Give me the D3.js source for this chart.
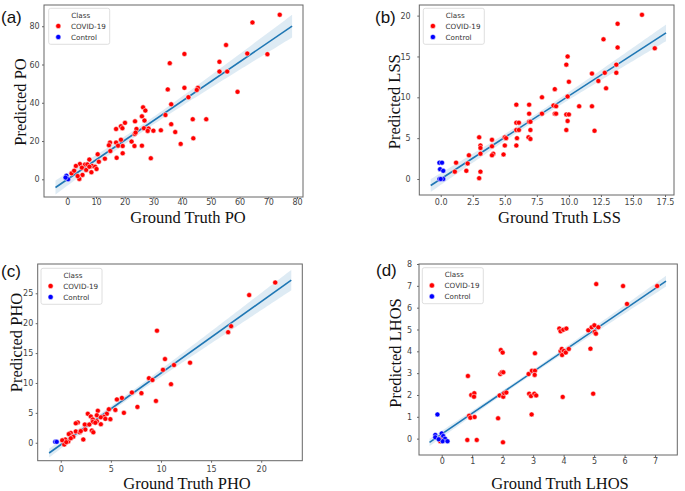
<!DOCTYPE html>
<html>
<head>
<meta charset="utf-8">
<script src="https://cdn.jsdelivr.net/npm/d3@7"></script>
<style>
  html, body { margin: 0; padding: 0; background: #fff; }
  svg { display: block; }
</style>
</head>
<body>
<svg width="685" height="491"></svg>
<script>
// ---- data: [ground truth, predicted] ----
const poCovid = [
  [74, 86], [64.5, 82], [55.3, 70.2], [40.8, 65.5], [62.7, 65.7], [69.7, 65.4], [53, 61.4],
  [35.7, 60.7], [53, 56.3], [55.7, 56.3], [35, 47], [40.8, 47.8], [45.5, 47.8], [45.1, 46.7],
  [59.3, 45.7], [42.2, 42.9], [36.2, 39.2], [34.2, 33.6], [26.4, 37.6], [27.2, 35.9],
  [26, 32.9], [26.9, 30.7], [23.6, 30.3], [20.1, 29.5], [18.7, 27.7], [17, 26.3], [19.2, 26.7],
  [24.1, 26.3], [26.7, 26.7], [28.3, 26.5], [30, 25.4], [32.6, 25.6], [28, 25.3], [36.2, 28.8],
  [37.6, 24.7], [43.7, 31.4], [48.4, 31.4], [43.9, 21.4], [39.5, 18.5], [23.5, 23.7],
  [23.8, 24.4], [22.4, 19.7], [18.7, 20.7], [17, 19.2], [17.7, 17.6], [14.9, 19.2], [14.5, 17.8],
  [19.3, 17.4], [23.4, 17.4], [26, 17.6], [19.3, 13.6], [15, 14.8], [17.2, 11.2], [29.1, 11],
  [10.6, 13.1], [13.1, 10.8], [11, 9.2], [7.7, 10.3], [8.7, 7], [9.7, 6.6], [10.2, 5.4],
  [4.4, 8], [3, 7], [6.2, 7.7], [5.1, 6.1], [6.6, 4.9], [5.3, 2.3], [8.4, 3.7], [1.5, 3.1],
  [4.2, 0.2], [3.6, 1.7], [2.4, 4.5], [7, 7.8], [7.7, 6.6]
];
const poControl = [[-0.3, 1.9], [0.3, 0], [-0.6, 0.9]];

const lssCovid = [
  [15.7, 20.1], [13.8, 19], [12.7, 17.1], [13.8, 16.1], [16.7, 16], [9.9, 15], [9.8, 14],
  [13.7, 14], [11.8, 12.9], [12.8, 13], [13.7, 13], [10, 11.9], [12.3, 12], [12.9, 11.1],
  [8.9, 11], [7.9, 10], [9.9, 10.1], [5.9, 9.1], [6.9, 9.1], [8.8, 9], [9, 8.9], [10.8, 8.9],
  [11.8, 8.9], [6.9, 8], [7.9, 8], [8.9, 8], [9, 8], [9.8, 7.9], [10, 7.9], [5.9, 6.9],
  [6.1, 6.9], [6.9, 7], [7, 7], [9.9, 7.1], [5.9, 6], [6.1, 6], [7, 6], [9.8, 6], [12, 5.9],
  [3, 5.1], [5, 5.1], [5.1, 5], [5.95, 5], [6.85, 5.1], [7, 4.9], [4, 4.8], [3.1, 4.1],
  [4, 4], [5, 4.1], [5.9, 4.1], [3.1, 3.8], [3.1, 3.1], [4.1, 3.1], [4, 2.9], [4.9, 3],
  [2.2, 2.9], [1.2, 2], [2.1, 1.9], [1.1, 0.9], [2, 1], [3.1, 0.9], [3, 0.1]
];
const lssControl = [[-0.1, 2], [0.1, 2], [-0.05, 1.2], [0.2, 1], [-0.1, 0], [0.2, 0], [0, 0]];

const phoCovid = [
  [21.4, 26.8], [18.8, 24.7], [16.7, 18.5], [17, 19.5], [9.6, 18.75], [10.4, 14], [11.3, 13],
  [12.9, 13.4], [10.2, 12.2], [8.8, 10.8], [9.15, 10.5], [11, 9.8], [7.1, 8.4], [8.05, 8.3],
  [9.5, 7], [7.65, 6], [5.6, 7.25], [6.1, 7.5], [5.45, 5.5], [6.3, 5], [3.7, 5.35], [2.7, 4.85],
  [3, 4.4], [3.2, 3.9], [3.6, 4.6], [4.6, 4.85], [4.8, 5.6], [4.95, 3.95], [4.3, 4.35],
  [4, 4.25], [4.45, 4], [4, 3.1], [3.6, 3.6], [3.2, 3.5], [3.45, 3.35], [2.4, 3.05],
  [2.85, 3.05], [1.7, 3.4], [1.5, 3.25], [2.45, 2.2], [3.1, 2.05], [3.25, 1.75], [1.5, 1.9],
  [1.9, 1.75], [2, 1.95], [1, 1.65], [0.8, 1.45], [1.25, 1], [0.75, 0.2], [2.25, 0.55],
  [0.45, 0.55], [0.15, 0.4], [0.35, -0.3], [0.55, 0.1], [1, 0.75]
];
const phoControl = [[-0.55, 0.15], [-0.4, 0.15]];

const lhosCovid = [
  [5.07, 7.08], [5.95, 6.99], [7.07, 6.99], [6.08, 6.17], [3.86, 5.04], [3.9, 4.92],
  [3.99, 4.99], [4.09, 5.04], [4.81, 4.96], [4.92, 5.1], [5.01, 5.19], [5.14, 5.1],
  [5.02, 4.89], [5.06, 4.81], [4.88, 4.12], [3.9, 4.02], [3.94, 4.11], [4.01, 4.02],
  [3.95, 3.83], [4.07, 3.94], [4.17, 4.11], [1.94, 4.06], [2.0, 3.94], [3.06, 3.91],
  [0.86, 2.87], [1.92, 2.96], [1.97, 3.04], [2.02, 3.04], [2.85, 2.96], [2.96, 3.11],
  [3.06, 3.11], [3.05, 2.92], [0.97, 2.0], [1.07, 2.08], [1.06, 1.92], [1.9, 1.98],
  [2.02, 1.92], [2.05, 2.08], [2.12, 2.11], [2.87, 2.06], [2.93, 1.95], [3.04, 2.06],
  [3.1, 1.98], [3.97, 1.91], [4.97, 2.06], [0.9, 1.05], [0.94, 0.96], [1.08, 0.99],
  [1.85, 0.93], [2.95, 1.11], [0.84, -0.06], [1.15, -0.06], [2.01, -0.17], [-0.04, 0],
  [-0.05, -0.12], [0.01, -0.06]
];
const lhosControl = [
  [-0.14, 1.11], [-0.21, 0.17], [-0.21, 0.06], [0, 0.24], [0.05, 0.12], [0.11, 0],
  [0.03, -0.12], [0.19, -0.12], [-0.1, -0.03]
];

const classNames = ["COVID-19", "Control"];
const classColors = ["#ff0000", "#0000ff"];

const poTicksX = d3.range(0, 81, 10), poTicksY = d3.range(0, 81, 20);
const lssTicksX = d3.range(0, 17.6, 2.5), lssTicksY = d3.range(0, 21, 5);
const phoTicksX = d3.range(0, 21, 5), phoTicksY = d3.range(0, 26, 5);
const lhosTicksX = d3.range(0, 8, 1), lhosTicksY = d3.range(0, 9, 1);

// ---- layout of the four panels ----
// bandScale: many points overlap in the original (integer scores), so its band is narrower
const panels = [
  { tag: "(a)", tagX: 1, tagY: 23, name: "PO", covid: poCovid, control: poControl,
    box: [44, 5, 303, 197], xDom: [-8.1, 82.1], yDom: [-9.25, 91.1], span: [-4.1, 78.3],
    bandScale: 1, xTicks: poTicksX, yTicks: poTicksY, xFmt: d3.format("d"), xPad: 0.6, yPad: 2.3,
    xLab: [188, 223], yLab: [26, 102], legend: [48.7, 8.3] },
  { tag: "(b)", tagX: 375, tagY: 23, name: "LSS", covid: lssCovid, control: lssControl,
    box: [419.3, 5, 674, 195], xDom: [-1.67, 18.2], yDom: [-1.96, 21.3], span: [-0.78, 17.58],
    bandScale: 0.78, xTicks: lssTicksX, yTicks: lssTicksY, xFmt: d3.format(".1f"), xPad: 2.1, yPad: 6.6,
    xLab: [559.5, 222.7], yLab: [400, 101.7], legend: [423.3, 8.3] },
  { tag: "(c)", tagX: 1, tagY: 276.5, name: "PHO", covid: phoCovid, control: phoControl,
    box: [37.7, 264, 302.3, 460.7], xDom: [-2.3, 24.1], yDom: [-3.0, 29.9], span: [-1.16, 23],
    bandScale: 1.05, xTicks: phoTicksX, yTicks: phoTicksY, xFmt: d3.format("d"), xPad: 3.7, yPad: 2.4,
    xLab: [187, 488.5], yLab: [21.5, 342.5], legend: [41, 268.3] },
  { tag: "(d)", tagX: 376, tagY: 276, name: "LHOS", covid: lhosCovid, control: lhosControl,
    box: [419, 264, 677.3, 455], xDom: [-0.745, 7.73], yDom: [-0.75, 8.0], span: [-0.4, 7.36],
    bandScale: 0.38, xTicks: lhosTicksX, yTicks: lhosTicksY, xFmt: d3.format("d"), xPad: 1.8, yPad: 5,
    xLab: [560, 488.5], yLab: [401, 353], legend: [422.3, 267.7] }
];

// ordinary least squares + 95% band of the mean, as regplot draws it
const fit = (pts) => {
  const n = pts.length;
  const mx = d3.mean(pts, (d) => d[0]), my = d3.mean(pts, (d) => d[1]);
  const sxx = d3.sum(pts, (d) => (d[0] - mx) ** 2);
  const sxy = d3.sum(pts, (d) => (d[0] - mx) * (d[1] - my));
  const b = sxy / sxx, a = my - b * mx;
  const s = Math.sqrt(d3.sum(pts, (d) => (d[1] - a - b * d[0]) ** 2) / (n - 2));
  const f = (x) => a + b * x;
  f.half = (x) => 1.99 * s * Math.sqrt(1 / n + (x - mx) ** 2 / sxx);
  return f;
};

const svg = d3.select("svg");

panels.forEach((p) => {
  const [x0, y0, x1, y1] = p.box;
  const x = d3.scaleLinear().domain(p.xDom).range([x0, x1]);
  const y = d3.scaleLinear().domain(p.yDom).range([y1, y0]);
  const g = svg.append("g").attr("class", "panel");

  const clipId = `clip-${p.name}`;
  g.append("clipPath").attr("id", clipId)
    .append("rect").attr("x", x0).attr("y", y0).attr("width", x1 - x0).attr("height", y1 - y0);

  const plot = g.append("g").attr("clip-path", `url(#${clipId})`);

  // regression band and line
  const all = p.covid.concat(p.control);
  const reg = fit(all);
  const xs = d3.range(0, 101).map((i) => p.span[0] + (p.span[1] - p.span[0]) * i / 100);
  plot.append("path")
    .attr("fill", "#1f77b4").attr("fill-opacity", 0.15)
    .attr("d", d3.area()
      .x((d) => x(d))
      .y0((d) => y(reg(d) - p.bandScale * reg.half(d)))
      .y1((d) => y(reg(d) + p.bandScale * reg.half(d)))(xs));
  plot.append("line")
    .attr("x1", x(p.span[0])).attr("y1", y(reg(p.span[0])))
    .attr("x2", x(p.span[1])).attr("y2", y(reg(p.span[1])))
    .attr("stroke", "#1f77b4").attr("stroke-width", 1.6);

  // scatter points
  [p.covid, p.control].forEach((pts, k) => {
    plot.selectAll(null)
      .data(pts)
      .join("circle")
      .attr("cx", (d) => x(d[0]))
      .attr("cy", (d) => y(d[1]))
      .attr("r", 2.5)
      .attr("fill", classColors[k])
      .attr("stroke", "#fff")
      .attr("stroke-width", 0.5);
  });

  // frame
  g.append("rect")
    .attr("x", x0).attr("y", y0).attr("width", x1 - x0).attr("height", y1 - y0)
    .attr("fill", "none").attr("stroke", "#666").attr("stroke-width", 1);

  // axes
  const xa = g.append("g").attr("transform", `translate(0,${y1})`)
    .call(d3.axisBottom(x).tickValues(p.xTicks).tickFormat(p.xFmt).tickSize(2).tickPadding(p.xPad));
  const ya = g.append("g").attr("transform", `translate(${x0},0)`)
    .call(d3.axisLeft(y).tickValues(p.yTicks).tickFormat(d3.format("d")).tickSize(2).tickPadding(p.yPad));
  [xa, ya].forEach((a) => {
    a.select(".domain").remove();
    a.selectAll("line").attr("stroke", "#666");
    a.selectAll("text").attr("fill", "#444")
      .style("font-family", "'DejaVu Sans', sans-serif").style("font-size", "8px");
  });

  // axis titles
  g.append("text")
    .attr("x", p.xLab[0]).attr("y", p.xLab[1])
    .attr("text-anchor", "middle")
    .style("font-family", "'Liberation Serif', 'Times New Roman', serif")
    .style("font-size", "16.5px").attr("fill", "#111")
    .text(`Ground Truth ${p.name}`);
  g.append("text")
    .attr("transform", `translate(${p.yLab[0]},${p.yLab[1]}) rotate(-90)`)
    .attr("text-anchor", "middle")
    .style("font-family", "'Liberation Serif', 'Times New Roman', serif")
    .style("font-size", "16.5px").attr("fill", "#111")
    .text(`Predicted ${p.name}`);

  // panel tag
  g.append("text")
    .attr("x", p.tagX).attr("y", p.tagY)
    .style("font-family", "'Liberation Sans', Arial, sans-serif")
    .style("font-size", "17px").attr("fill", "#111")
    .text(p.tag);

  // legend
  const [lx, ly] = p.legend;
  const lg = g.append("g").attr("transform", `translate(${lx},${ly})`)
    .style("font-family", "'DejaVu Sans', sans-serif").style("font-size", "7.2px");
  lg.append("rect")
    .attr("width", 61).attr("height", 36).attr("rx", 2)
    .attr("fill", "#fff").attr("fill-opacity", 0.85)
    .attr("stroke", "#d6d6d6").attr("stroke-width", 0.8);
  lg.append("text").attr("x", 32).attr("y", 9.5).attr("text-anchor", "middle")
    .attr("fill", "#333").text("Class");
  classNames.forEach((c, k) => {
    lg.append("circle").attr("cx", 9.6).attr("cy", 17.7 + 11 * k).attr("r", 2.6)
      .attr("fill", classColors[k]).attr("stroke", "#fff").attr("stroke-width", 0.5);
    lg.append("text").attr("x", 22.3).attr("y", 20.3 + 11 * k)
      .attr("fill", "#333").text(c);
  });
});
</script>
</body>
</html>
